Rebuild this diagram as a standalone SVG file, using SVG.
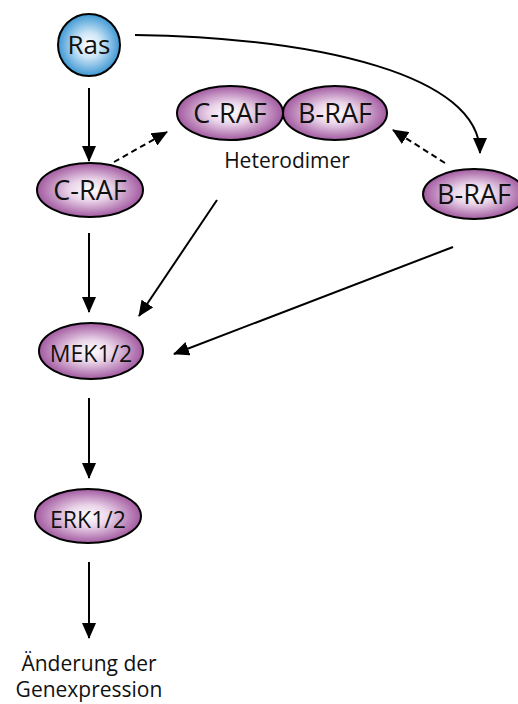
<svg xmlns="http://www.w3.org/2000/svg" width="518" height="704" viewBox="0 0 518 704">
<defs>
<radialGradient id="gp" cx="50%" cy="50%" r="50%">
<stop offset="0" stop-color="#ffffff"/>
<stop offset="0.4" stop-color="#ead4e9"/>
<stop offset="1" stop-color="#a25aa0"/>
</radialGradient>
<radialGradient id="gb" cx="50%" cy="50%" r="50%">
<stop offset="0" stop-color="#ffffff"/>
<stop offset="0.4" stop-color="#cde6f7"/>
<stop offset="1" stop-color="#3d97d3"/>
</radialGradient>
<marker id="ah" markerUnits="userSpaceOnUse" markerWidth="16" markerHeight="14" viewBox="0 0 16 14" refX="15" refY="7" orient="auto">
<path d="M0,0 L16,7 L0,14 Z" fill="#000"/>
</marker>
</defs>
<style>
.n{fill:url(#gp);stroke:#000;stroke-width:2}
.t{font-family:"Open Sans","Liberation Sans",sans-serif;fill:#111;text-anchor:middle}
.c{fill:none;stroke:#000;stroke-width:2;marker-end:url(#ah)}
.d{stroke-dasharray:6,4}
</style>
<g id="connectors">
<line class="c" x1="89" y1="88" x2="89" y2="161"/>
<line class="c" x1="89" y1="233" x2="89" y2="312"/>
<line class="c" x1="89" y1="398" x2="89" y2="478"/>
<line class="c" x1="89" y1="562" x2="89" y2="638"/>
<line class="c d" x1="114" y1="162" x2="167" y2="132"/>
<line class="c d" x1="445" y1="163" x2="393" y2="130"/>
<line class="c" x1="217" y1="200" x2="139" y2="316"/>
<line class="c" x1="453" y1="247" x2="174" y2="354"/>
<path class="c" d="M135,35 C320,38 480,75 480,153"/>
</g>
<g id="ras">
<circle cx="89" cy="45" r="31" fill="url(#gb)" stroke="#000" stroke-width="2"/>
<text class="t" x="89" y="54" font-size="26">Ras</text>
</g>
<g id="craf">
<ellipse class="n" cx="90" cy="190" rx="53" ry="27"/>
<text class="t" x="90" y="200" font-size="27">C-RAF</text>
</g>
<g id="heterodimer">
<ellipse class="n" cx="230" cy="113" rx="53" ry="27"/>
<ellipse class="n" cx="335" cy="113" rx="52" ry="27"/>
<text class="t" x="230" y="123" font-size="27">C-RAF</text>
<text class="t" x="335" y="123" font-size="27">B-RAF</text>
<text class="t" x="287" y="168" font-size="21">Heterodimer</text>
</g>
<g id="braf">
<ellipse class="n" cx="474" cy="194" rx="51" ry="25"/>
<text class="t" x="474" y="204" font-size="27">B-RAF</text>
</g>
<g id="mek">
<ellipse class="n" cx="91" cy="351" rx="52" ry="28"/>
<text class="t" x="91" y="362" font-size="23">MEK1/2</text>
</g>
<g id="erk">
<ellipse class="n" cx="88" cy="516" rx="53" ry="27"/>
<text class="t" x="88" y="528" font-size="23">ERK1/2</text>
</g>
<g id="output">
<text class="t" x="89" y="671" font-size="21">Änderung der</text>
<text class="t" x="89" y="697" font-size="21">Genexpression</text>
</g>
</svg>
